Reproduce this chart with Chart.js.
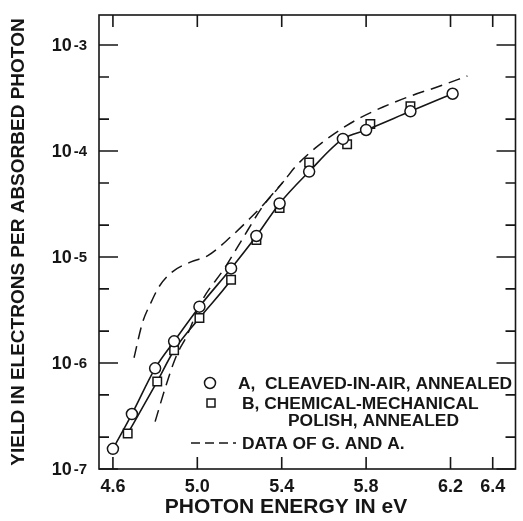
<!DOCTYPE html>
<html>
<head>
<meta charset="utf-8">
<script src="https://cdn.jsdelivr.net/npm/chart.js@4"></script>
<style>
  html, body { margin: 0; padding: 0; background: #fff; }
  #wrap { width: 523px; height: 521px; }
</style>
</head>
<body>
<div id="wrap"><canvas id="yield-chart"></canvas></div>
<script>
// sample A, cleaved-in-air (circles)
const energyA = [4.60, 4.69, 4.80, 4.89, 5.01, 5.16, 5.28, 5.39, 5.53, 5.69, 5.80, 6.01, 6.21];
const yieldA = [1.55e-7, 3.3e-7, 8.9e-7, 1.6e-6, 3.4e-6, 7.8e-6, 1.58e-5, 3.2e-5, 6.4e-5, 1.3e-4, 1.58e-4, 2.37e-4, 3.47e-4];

// sample B, chemical-mechanical polish (squares)
const energyB = [4.67, 4.81, 4.89, 5.01, 5.16, 5.28, 5.39, 5.53, 5.71, 5.82, 6.01];
const yieldB = [2.16e-7, 6.7e-7, 1.32e-6, 2.66e-6, 6.1e-6, 1.45e-5, 2.9e-5, 7.8e-5, 1.16e-4, 1.8e-4, 2.65e-4];

// data of G. and A. (two dashed curves)
const energyGA1 = [4.70, 4.74, 4.78, 4.82, 4.88, 4.97, 5.05, 5.16, 5.25, 5.35, 5.41, 5.47, 5.56, 5.65, 5.76, 5.88, 6.01, 6.15, 6.28];
const yieldGA1 = [1.12e-6, 2.4e-6, 3.7e-6, 5.3e-6, 7.2e-6, 9.0e-6, 1.03e-5, 1.56e-5, 2.32e-5, 3.75e-5, 5.2e-5, 7.3e-5, 1.07e-4, 1.46e-4, 2.0e-4, 2.6e-4, 3.3e-4, 4.1e-4, 5.1e-4];
const energyGA2 = [4.80, 4.85, 4.90, 4.95, 5.02, 5.13, 5.21, 5.31, 5.41];
const yieldGA2 = [2.8e-7, 6.0e-7, 1.16e-6, 1.8e-6, 3.8e-6, 7.9e-6, 1.44e-5, 3.0e-5, 5.2e-5];

const energyTicks = [4.6, 5.0, 5.4, 5.8, 6.2, 6.4];
const yieldTicks = [1e-7, 2e-7, 5e-7, 1e-6, 2e-6, 5e-6, 1e-5, 2e-5, 5e-5, 1e-4, 2e-4, 5e-4, 1e-3];

const labelA = "A,  CLEAVED-IN-AIR, ANNEALED";
const labelB = ["B, CHEMICAL-MECHANICAL", "POLISH, ANNEALED"];
const labelGA = "DATA OF G. AND A.";
const xTitle = "PHOTON ENERGY IN eV";

const ink = "#161616";
const font = '"Liberation Sans", Arial, sans-serif';

function toPoints(xs, ys) {
	return xs.map((x, i) => ({ x, y: ys[i] }));
}

function isDecade(v) {
	const e = Math.log10(v);
	return Math.abs(e - Math.round(e)) < 1e-6;
}

// frame with inward ticks on all four sides, the 10^n labels and the x title
const framePlugin = {
	id: "frame",
	afterDatasetsDraw(chart) {
		const { ctx, chartArea: a, scales } = chart;
		const x = scales.x;
		const y = scales.y;
		ctx.save();
		ctx.strokeStyle = ink;
		ctx.lineWidth = 1.6;
		ctx.strokeRect(a.left, a.top, a.right - a.left, a.bottom - a.top);

		ctx.beginPath();
		x.ticks.forEach((t) => {
			const px = x.getPixelForValue(t.value);
			ctx.moveTo(px, a.bottom);
			ctx.lineTo(px, a.bottom - 12);
			ctx.moveTo(px, a.top);
			ctx.lineTo(px, a.top + 12);
		});
		y.ticks.forEach((t) => {
			const py = y.getPixelForValue(t.value);
			const len = isDecade(t.value) ? 19 : 10;
			ctx.moveTo(a.left, py);
			ctx.lineTo(a.left + len, py);
			ctx.moveTo(a.right, py);
			ctx.lineTo(a.right - len, py);
		});
		ctx.stroke();

		ctx.fillStyle = ink;
		y.ticks.forEach((t) => {
			if (!isDecade(t.value)) return;
			const py = y.getPixelForValue(t.value);
			const exp = String(Math.round(Math.log10(t.value)));
			ctx.font = "bold 15px " + font;
			ctx.textAlign = "right";
			ctx.textBaseline = "top";
			const ew = ctx.measureText(exp).width;
			ctx.fillText(exp, 87, py - 7);
			ctx.font = "bold 18px " + font;
			ctx.textBaseline = "middle";
			ctx.fillText("10", 87 - ew - 2, py + 1);
		});

		// x title sits a little left of the plot centre
		ctx.font = "bold 21px " + font;
		ctx.textAlign = "center";
		ctx.textBaseline = "middle";
		ctx.fillText(xTitle, a.left + 187, a.bottom + 38);
		ctx.restore();
	},
};

// legend drawn inside the plot, lower right
const legendPlugin = {
	id: "insideLegend",
	afterDatasetsDraw(chart) {
		const { ctx } = chart;
		ctx.save();
		ctx.strokeStyle = ink;
		ctx.fillStyle = "#fff";
		ctx.lineWidth = 1.5;

		ctx.beginPath();
		ctx.arc(210, 383, 5.5, 0, Math.PI * 2);
		ctx.fill();
		ctx.stroke();

		ctx.beginPath();
		ctx.rect(207, 399, 8, 8);
		ctx.fill();
		ctx.stroke();

		ctx.setLineDash([9, 5]);
		ctx.beginPath();
		ctx.moveTo(191, 443);
		ctx.lineTo(236, 443);
		ctx.stroke();
		ctx.setLineDash([]);

		ctx.fillStyle = ink;
		ctx.font = "bold 17.4px " + font;
		ctx.textAlign = "left";
		ctx.textBaseline = "middle";
		ctx.fillText(labelA, 238, 384);
		ctx.fillText(labelB[0], 242, 404);
		ctx.fillText(labelB[1], 288, 421);
		ctx.fillText(labelGA, 242, 444);
		ctx.restore();
	},
};

new Chart(document.getElementById("yield-chart"), {
	type: "line",
	data: {
		datasets: [
			{
				label: labelA,
				data: toPoints(energyA, yieldA),
				borderColor: ink,
				borderWidth: 1.6,
				backgroundColor: "#fff",
				pointStyle: "circle",
				pointRadius: 5.5,
				pointBorderWidth: 1.5,
				pointBorderColor: ink,
				pointBackgroundColor: "#fff",
				cubicInterpolationMode: "monotone",
			},
			{
				label: labelB.join(" "),
				data: toPoints(energyB, yieldB),
				borderColor: ink,
				borderWidth: 1.6,
				backgroundColor: "#fff",
				pointStyle: "rect",
				pointRadius: 6,
				pointBorderWidth: 1.5,
				pointBorderColor: ink,
				pointBackgroundColor: "#fff",
				cubicInterpolationMode: "monotone",
				// only the lower part of B has its own curve; above it joins curve A
				segment: {
					borderColor: (c) => (c.p1DataIndex > 4 ? "rgba(0,0,0,0)" : ink),
				},
			},
			{
				label: labelGA,
				data: toPoints(energyGA1, yieldGA1),
				borderColor: ink,
				borderWidth: 1.5,
				borderDash: [12, 7],
				pointRadius: 0,
				cubicInterpolationMode: "monotone",
			},
			{
				label: labelGA,
				data: toPoints(energyGA2, yieldGA2),
				borderColor: ink,
				borderWidth: 1.5,
				borderDash: [12, 7],
				pointRadius: 0,
				cubicInterpolationMode: "monotone",
			},
		],
	},
	options: {
		responsive: true,
		maintainAspectRatio: false,
		animation: false,
		layout: {
			padding: { left: 0, top: 15, right: 4, bottom: 0 },
		},
		plugins: {
			legend: { display: false },
			tooltip: { enabled: false },
		},
		scales: {
			x: {
				type: "linear",
				min: 4.534,
				max: 6.508,
				afterBuildTicks: (s) => {
					s.ticks = energyTicks.map((v) => ({ value: v }));
				},
				afterFit: (s) => {
					s.height = 52;
				},
				grid: { display: false, drawTicks: false },
				border: { display: false },
				ticks: {
					color: ink,
					padding: 7,
					font: { family: font, size: 18, weight: "bold" },
					callback: (v) => Number(v).toFixed(1),
				},
				title: { display: false },
			},
			y: {
				type: "logarithmic",
				min: 1e-7,
				max: 1.92e-3,
				afterBuildTicks: (s) => {
					s.ticks = yieldTicks.map((v) => ({ value: v }));
				},
				afterFit: (s) => {
					s.width = 99;
				},
				grid: { display: false, drawTicks: false },
				border: { display: false },
				ticks: { display: false },
				title: {
					display: true,
					text: "YIELD IN ELECTRONS PER ABSORBED PHOTON",
					color: ink,
					font: { family: font, size: 19, weight: "bold" },
					padding: { top: 7, bottom: 0 },
				},
			},
		},
	},
	plugins: [framePlugin, legendPlugin],
});
</script>
</body>
</html>
